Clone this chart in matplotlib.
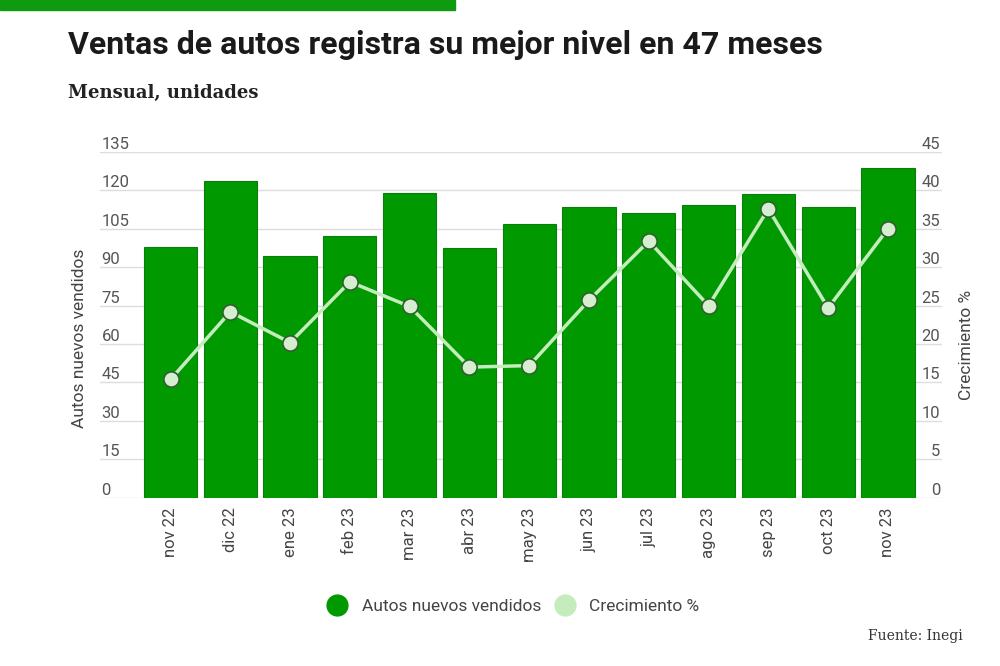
import matplotlib.pyplot as plt
from matplotlib.lines import Line2D
from matplotlib.patches import Rectangle

meses = ["nov 22", "dic 22", "ene 23", "feb 23", "mar 23", "abr 23", "may 23",
         "jun 23", "jul 23", "ago 23", "sep 23", "oct 23", "nov 23"]
autos = [98.0, 123.5, 94.3, 102.2, 119.0, 97.5, 106.9,
         113.6, 111.0, 114.2, 118.5, 113.6, 128.9]
crecimiento = [15.4, 24.2, 20.2, 28.1, 24.9, 17.0, 17.2,
               25.7, 33.4, 25.0, 37.6, 24.7, 35.0]
ticks_izq = [0, 15, 30, 45, 60, 75, 90, 105, 120, 135]
ticks_der = [0, 5, 10, 15, 20, 25, 30, 35, 40, 45]

verde = "#009a00"
verde_claro = "#c4ecbc"
gris = "#555555"

plt.rcParams['font.family'] = ['Roboto', 'DejaVu Sans']

fig = plt.figure(figsize=[10, 6.66], dpi=100)
ax = fig.add_axes([0.1, 0.2527, 0.8417, 0.519])

x = list(range(len(meses)))
ax.bar(x, autos, width=0.89, color=verde, edgecolor="#0b7d0b", linewidth=0.8, zorder=3)
ax.set_xlim(-1.18, 12.9)
ax.set_ylim(0, 135)
ax.set_yticks(ticks_izq)
ax.grid(axis="y", color="#dddddd", linewidth=1, zorder=0)
ax.set_axisbelow(True)
for s in ax.spines.values():
    s.set_visible(False)
ax.tick_params(axis="y", length=0, pad=-1, labelsize=12, labelcolor=gris)
for lab in ax.get_yticklabels():
    lab.set_horizontalalignment("left")
    lab.set_verticalalignment("bottom")
ax.set_xticks(x)
ax.set_xticklabels(meses, rotation=90)
ax.tick_params(axis="x", length=0, pad=7, labelsize=12, labelcolor="#444444")
ax.set_ylabel("Autos nuevos vendidos", fontsize=12.5, color="#444444")
ax.yaxis.set_label_coords(-0.015, 0.462)

ax2 = ax.twinx()
ax2.plot(x, crecimiento, color=verde_claro, linewidth=2.5, marker="o", markersize=11,
         markerfacecolor="#d6eed0", markeredgecolor="#2f5f2f", markeredgewidth=1.2, zorder=4)
ax2.set_ylim(0, 45)
ax2.set_yticks(ticks_der)
for s in ax2.spines.values():
    s.set_visible(False)
ax2.tick_params(axis="y", length=0, pad=-1, labelsize=12, labelcolor=gris)
for lab in ax2.get_yticklabels():
    lab.set_horizontalalignment("right")
    lab.set_verticalalignment("bottom")
ax2.set_ylabel("Crecimiento %", fontsize=12.5, color="#444444")
ax2.yaxis.set_label_coords(1.0205, 0.442)

# barra verde superior
fig.patches.append(Rectangle((0, 0.985), 0.455, 0.015, transform=fig.transFigure,
                             color="#0f9a0f", zorder=0))

fig.text(0.068, 0.932, "Ventas de autos registra su mejor nivel en 47 meses",
         fontsize=23, fontweight="bold", color="#1a1a1a", va="center")
fig.text(0.068, 0.860, "Mensual, unidades", fontsize=13, fontweight="bold",
         family="DejaVu Serif", color="#222222", va="center")
fig.text(0.963, 0.045, "Fuente: Inegi", fontsize=10, family="DejaVu Serif",
         color="#333333", ha="right", va="center")

handles = [Line2D([], [], linestyle="none", marker="o", markersize=15, color=verde),
           Line2D([], [], linestyle="none", marker="o", markersize=15, color=verde_claro)]
fig.legend(handles, ["Autos nuevos vendidos", "Crecimiento %"], loc="center",
           bbox_to_anchor=(0.5095, 0.09), ncol=2, frameon=False, fontsize=12.5,
           labelcolor="#444444", handletextpad=0.4, columnspacing=0.37)

fig.savefig("out.png", dpi=100)
